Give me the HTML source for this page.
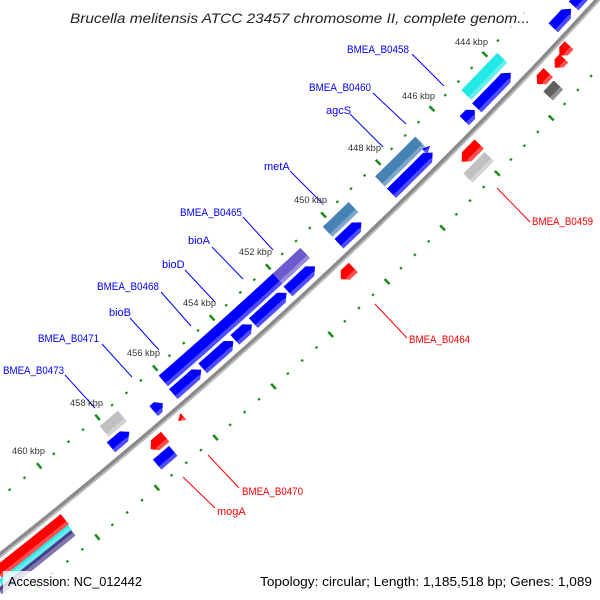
<!DOCTYPE html>
<html><head><meta charset="utf-8">
<style>
html,body{margin:0;padding:0;background:#fff;width:600px;height:600px;overflow:hidden;}
svg{display:block;overflow:hidden;}
text{font-family:"Liberation Sans",sans-serif;}
</style></head>
<body>
<svg id="s" width="600" height="600" viewBox="0 0 600 600" xmlns="http://www.w3.org/2000/svg">
<defs><clipPath id="cp"><rect x="0" y="0" width="600" height="600"/></clipPath></defs>
<rect width="600" height="600" fill="#fff"/>
<g clip-path="url(#cp)"><g id="g" transform="rotate(-45)"></g></g>
<g id="lines" stroke-width="1">
<line x1="412" y1="54" x2="444" y2="86" stroke="#0000ff"/>
<line x1="373" y1="93" x2="406" y2="124" stroke="#0000ff"/>
<line x1="350" y1="114" x2="383" y2="147" stroke="#0000ff"/>
<line x1="290" y1="171" x2="322" y2="203" stroke="#0000ff"/>
<line x1="243" y1="217" x2="273" y2="250" stroke="#0000ff"/>
<line x1="212" y1="247" x2="243" y2="279" stroke="#0000ff"/>
<line x1="185" y1="270" x2="215" y2="302" stroke="#0000ff"/>
<line x1="161" y1="292" x2="191" y2="326" stroke="#0000ff"/>
<line x1="130" y1="318" x2="159" y2="350" stroke="#0000ff"/>
<line x1="102" y1="344" x2="132" y2="377" stroke="#0000ff"/>
<line x1="65" y1="375" x2="95" y2="408" stroke="#0000ff"/>
<line x1="497" y1="188" x2="530" y2="222" stroke="#ff0000"/>
<line x1="375" y1="304" x2="407" y2="338" stroke="#ff0000"/>
<line x1="208" y1="455" x2="239" y2="488" stroke="#ff0000"/>
<line x1="183" y1="477" x2="215" y2="508" stroke="#ff0000"/>
</g>
<g font-size="11" fill="#0000ff">
<text x="347" y="53" textLength="62" lengthAdjust="spacingAndGlyphs">BMEA_B0458</text>
<text x="309" y="91" textLength="62" lengthAdjust="spacingAndGlyphs">BMEA_B0460</text>
<text x="326" y="114">agcS</text>
<text x="264" y="170">metA</text>
<text x="180" y="216" textLength="62" lengthAdjust="spacingAndGlyphs">BMEA_B0465</text>
<text x="188" y="244">bioA</text>
<text x="162" y="268">bioD</text>
<text x="97" y="290" textLength="62" lengthAdjust="spacingAndGlyphs">BMEA_B0468</text>
<text x="109" y="316">bioB</text>
<text x="38" y="342" textLength="61" lengthAdjust="spacingAndGlyphs">BMEA_B0471</text>
<text x="3" y="374" textLength="61" lengthAdjust="spacingAndGlyphs">BMEA_B0473</text>
</g>
<g font-size="11" fill="#ff0000">
<text x="532" y="225" textLength="61" lengthAdjust="spacingAndGlyphs">BMEA_B0459</text>
<text x="409" y="343" textLength="61" lengthAdjust="spacingAndGlyphs">BMEA_B0464</text>
<text x="242" y="495" textLength="61" lengthAdjust="spacingAndGlyphs">BMEA_B0470</text>
<text x="217" y="515">mogA</text>
</g>
<g font-size="9" fill="#333">
<text x="455" y="45" textLength="33" lengthAdjust="spacingAndGlyphs">444 kbp</text>
<text x="402" y="99" textLength="33" lengthAdjust="spacingAndGlyphs">446 kbp</text>
<text x="348" y="151" textLength="33" lengthAdjust="spacingAndGlyphs">448 kbp</text>
<text x="294" y="203" textLength="33" lengthAdjust="spacingAndGlyphs">450 kbp</text>
<text x="239" y="255" textLength="33" lengthAdjust="spacingAndGlyphs">452 kbp</text>
<text x="183" y="306" textLength="33" lengthAdjust="spacingAndGlyphs">454 kbp</text>
<text x="127" y="356" textLength="33" lengthAdjust="spacingAndGlyphs">456 kbp</text>
<text x="70" y="406" textLength="33" lengthAdjust="spacingAndGlyphs">458 kbp</text>
<text x="12" y="454" textLength="33" lengthAdjust="spacingAndGlyphs">460 kbp</text>
</g>
<rect x="64" y="4" width="472" height="26" fill="#fff" fill-opacity="0.8"/>
<text x="70" y="23" font-size="14" font-style="italic" fill="#222" textLength="460" lengthAdjust="spacingAndGlyphs">Brucella melitensis ATCC 23457 chromosome II, complete genom...</text>
<rect x="3" y="571" width="146" height="27" fill="#fff" fill-opacity="0.8"/>
<rect x="254" y="571" width="344" height="27" fill="#fff" fill-opacity="0.8"/>
<text x="8" y="586" font-size="13" fill="#000" textLength="134" lengthAdjust="spacingAndGlyphs">Accession: NC_012442</text>
<text x="260" y="586" font-size="13" fill="#000" textLength="332" lengthAdjust="spacingAndGlyphs">Topology: circular; Length: 1,185,518 bp; Genes: 1,089</text>
</svg>
<script>
(function(){
var NS="http://www.w3.org/2000/svg";
var g=document.getElementById("g");
var R=5050,UC=200,VC=427.3-5050;
function P(a,r){return [UC+r*Math.sin(a),VC+r*Math.cos(a)];}
function A(u){return Math.asin((u-UC)/R);}
function scr(p){return [(p[0]+p[1])/Math.SQRT2,(p[1]-p[0])/Math.SQRT2];}
function el(tag,attrs){var e=document.createElementNS(NS,tag);for(var k in attrs)e.setAttribute(k,attrs[k]);g.appendChild(e);return e;}
function arcPts(a1,a2,r,n){var p=[];for(var i=0;i<=n;i++){p.push(P(a1+(a2-a1)*i/n,r));}return p;}
function shape(u1,u2,r1,r2,dir,h){
  var a1=A(u1),a2=A(u2),hh=(h||7)/R,pts=[];
  var b1=a1,b2=a2;
  if(dir==1)b2=a2-hh; if(dir==-1)b1=a1+hh;
  if(b2<b1){ if(dir==1)b2=b1; else b1=b2; }
  pts=pts.concat(arcPts(b1,b2,r1,8));
  if(dir==1)pts.push(P(a2,(r1+r2)/2));
  pts=pts.concat(arcPts(b2,b1,r2,8));
  if(dir==-1)pts.push(P(a1,(r1+r2)/2));
  return pts.map(function(p){return p[0].toFixed(2)+","+p[1].toFixed(2);}).join(" ");
}
function feat(u1,u2,r1,r2,col,dir,h){
  el("polygon",{points:shape(u1,u2,r1,r2,dir,h),fill:col});
  el("polygon",{points:shape(u1,u2,r2-4,r2,dir,h),fill:"#fff","fill-opacity":"0.3"});
}
var bb=arcPts(A(-402),A(424),R,60).map(function(p){return p[0].toFixed(2)+","+p[1].toFixed(2);}).join(" ");
el("polyline",{points:bb,fill:"none",stroke:"#8a8a8a","stroke-width":"5"});
var bb2=arcPts(A(-402),A(424),R+1.5,60).map(function(p){return p[0].toFixed(2)+","+p[1].toFixed(2);}).join(" ");
el("polyline",{points:bb2,fill:"none",stroke:"#c8c8c8","stroke-width":"1.2"});
for(var k=436;k<=468;k+=0.5){
  var a=-0.00945-(k-448)*0.00758;
  var major=(Math.abs(k%2)<1e-6);
  [5005,5097].forEach(function(r){
    var L=major?3.5:1.1;
    var s=scr(P(a,r));
    if(s[0]<3||s[0]>597||s[1]<3||s[1]>597)return;
    var p1=P(a,r-L),p2=P(a,r+L);
    el("line",{x1:p1[0],y1:p1[1],x2:p2[0],y2:p2[1],stroke:"#1a8c1a","stroke-width":"2.5"});
  });
}
var O1=[R-20,R-7],O2=[R-37,R-23],I1=[R+7,R+20],I2=[R+23,R+36];
var B="#0000ff",RD="#ff0000";
feat(263,315,O2[0],O2[1],"#22e8e8",0);
feat(140,197,O2[0],O2[1],"#4682b4",0);
feat(67,103,O2[0],O2[1],"#4682b4",0);
feat(-2,36,O2[0],O2[1],"#6a5acd",0);
feat(-156,-2,O2[0],O2[1],B,0);
feat(-234,-210,O2[0],O2[1],"#c0c0c0",0);
feat(372,398,O1[0],O1[1],B,1);
feat(402,440,O1[0],O1[1],B,1);
feat(261,310,O1[0],O1[1],B,1);
feat(243,258,O1[0],O1[1],B,1,6);
feat(140,198,O1[0],O1[1],B,1);
feat(193,201,R-23,R-17,B,1,6);
feat(67,98,O1[0],O1[1],B,1);
feat(-3,34,O1[0],O1[1],B,1);
feat(-50,-5,O1[0],O1[1],B,1);
feat(-75,-52,O1[0],O1[1],B,1);
feat(-118,-77,O1[0],O1[1],B,1);
feat(-157,-120,O1[0],O1[1],B,1);
feat(-183,-171,O1[0],O1[1],B,1,6);
feat(-239,-215,O1[0],O1[1],B,1);
feat(344,357,R+9,R+21,RD,-1,6);
feat(356,370,R+4,R+16,RD,-1,6);
feat(320,336,I1[0],I1[1],RD,-1,6);
feat(212,237,I1[0],I1[1],RD,-1);
feat(44,61,I1[0],I1[1],RD,-1,6);
feat(-171,-164,R+6,R+14,RD,-1,6);
feat(-210,-191,I1[0],I1[1],RD,-1,6);
feat(319,334,I2[0],I2[1],"#606060",0);
feat(205,235,I2[0],I2[1],"#c0c0c0",0);
feat(-215,-194,I2[0],I2[1],B,0);
feat(-405,-320,R+6,R+19,RD,0);
feat(-410,-321,R+19,R+25,"#22e8e8",0);
feat(-415,-322,R+25,R+32,"#483d8b",0);
})();
</script>
</body></html>
